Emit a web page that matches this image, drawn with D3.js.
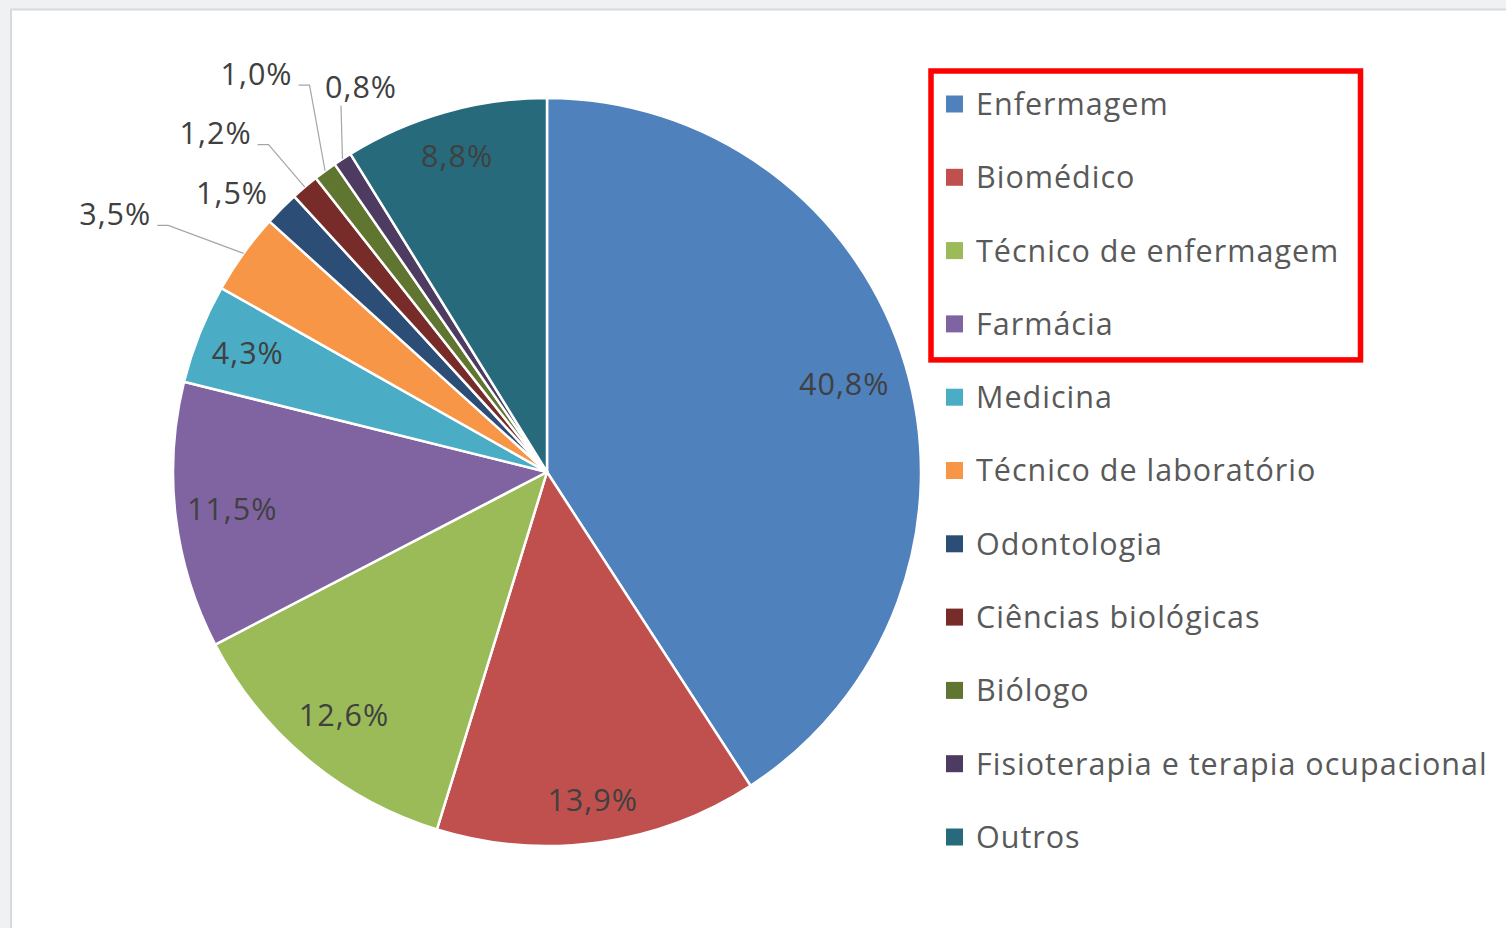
<!DOCTYPE html>
<html>
<head>
<meta charset="utf-8">
<script src="https://cdn.jsdelivr.net/npm/d3@7"></script>
<style>
  body { margin: 0; background: #f0f1f3; }
  text { font-family: "Open Sans", "Noto Sans", sans-serif; letter-spacing: 1px; }
</style>
</head>
<body>
<div id="vis"></div>
<script>
// Frame constants
const FRAME_WIDTH = 1506;
const FRAME_HEIGHT = 928;
const CENTER = {x: 547, y: 472};
const RADIUS = 374;
const FONT = "30.5px";

// Data
const categories = ["Enfermagem", "Biomédico", "Técnico de enfermagem", "Farmácia",
  "Medicina", "Técnico de laboratório", "Odontologia", "Ciências biológicas",
  "Biólogo", "Fisioterapia e terapia ocupacional", "Outros"];
const shares = [40.8, 13.9, 12.6, 11.5, 4.3, 3.5, 1.5, 1.2, 1.0, 0.8, 8.8];
const colors = ["#4f81bd", "#c0504d", "#9bbb59", "#8064a2", "#4bacc6", "#f79646",
  "#2c4d75", "#772c2a", "#5f7530", "#4d3b62", "#276a7c"];
const highlighted = ["Enfermagem", "Biomédico", "Técnico de enfermagem", "Farmácia"];

// radius of the labels that sit inside their slice
const INSIDE_LABEL_R = {
  "Enfermagem": 310, "Biomédico": 331, "Técnico de enfermagem": 317,
  "Farmácia": 317, "Medicina": 322, "Outros": 329
};
// placement of the outside labels: angle shift (deg) from slice middle, radius, leader line
const OUTSIDE_LABELS = {
  "Técnico de laboratório": {da: -4.9, r: 503, leader: true},
  "Odontologia": {da: -3.2, r: 421, leader: false},
  "Ciências biológicas": {da: -4.0, r: 474, leader: true},
  "Biólogo": {da: 0.3, r: 493, leader: true},
  "Fisioterapia e terapia ocupacional": {da: 7.4, r: 428, leader: true}
};

const fmt = v => v.toFixed(1).replace(".", ",") + "%";

const FRAME = d3.select("#vis")
  .append("svg")
    .attr("width", FRAME_WIDTH)
    .attr("height", FRAME_HEIGHT);

// chart area
FRAME.append("rect")
  .attr("x", 11).attr("y", 9.5)
  .attr("width", FRAME_WIDTH + 20).attr("height", FRAME_HEIGHT + 20)
  .attr("fill", "#ffffff")
  .attr("stroke", "#d9d9d9")
  .attr("stroke-width", 2);

const COLOR = d3.scaleOrdinal().domain(categories).range(colors);

const pieData = d3.pie().sort(null).value(d => d.v)(
  categories.map((c, i) => ({c: c, v: shares[i]})));

const arc = d3.arc().innerRadius(0).outerRadius(RADIUS);
const edgeArc = d3.arc().innerRadius(RADIUS).outerRadius(RADIUS);

const PIE = FRAME.append("g")
  .attr("transform", "translate(" + CENTER.x + "," + CENTER.y + ")");

PIE.selectAll("path.slice")
  .data(pieData)
  .enter()
  .append("path")
    .attr("class", "slice")
    .attr("d", arc)
    .attr("fill", d => COLOR(d.data.c))
    .attr("stroke", "#ffffff")
    .attr("stroke-width", 2.5)
    .attr("stroke-linejoin", "round");

// labels inside the slices
PIE.selectAll("text.inside")
  .data(pieData.filter(d => !OUTSIDE_LABELS[d.data.c]))
  .enter()
  .append("text")
    .attr("class", "inside")
    .attr("transform", d => {
      const r = INSIDE_LABEL_R[d.data.c];
      return "translate(" + d3.arc().innerRadius(r).outerRadius(r).centroid(d) + ")";
    })
    .attr("text-anchor", "middle")
    .attr("dy", "0.36em")
    .attr("font-size", FONT)
    .attr("fill", "#404040")
    .text(d => fmt(d.data.v));

// labels outside, with leader lines
const outside = pieData.filter(d => OUTSIDE_LABELS[d.data.c]);
outside.forEach(d => {
  const cfg = OUTSIDE_LABELS[d.data.c];
  const mid = (d.startAngle + d.endAngle) / 2 + cfg.da * Math.PI / 180;
  const lx = cfg.r * Math.sin(mid);
  const ly = -cfg.r * Math.cos(mid);
  const t = PIE.append("text")
    .attr("x", lx).attr("y", ly)
    .attr("text-anchor", "middle")
    .attr("dy", "0.36em")
    .attr("font-size", FONT)
    .attr("fill", "#404040")
    .text(fmt(d.data.v));
  if (!cfg.leader) return;
  const box = t.node().getBBox();
  const start = edgeArc.centroid(d);
  let pts;
  if (start[0] > box.x && start[0] < box.x + box.width) {
    pts = [[start[0] - 1.5, box.y + box.height - 1], start];
  } else {
    const yy = ly + 11.5;
    const x0 = box.x + box.width + 6;
    pts = [[x0, yy], [x0 + 11, yy], start];
  }
  PIE.append("path")
    .attr("d", d3.line()(pts))
    .attr("fill", "none")
    .attr("stroke", "#a6a6a6")
    .attr("stroke-width", 1.2);
});

// Legend
const LEGEND_Y = d3.scalePoint().domain(categories).range([104, 837]);
const LEGEND = FRAME.append("g");
LEGEND.selectAll("rect")
  .data(categories)
  .enter()
  .append("rect")
    .attr("x", 946)
    .attr("y", d => LEGEND_Y(d) - 8.5)
    .attr("width", 17).attr("height", 17)
    .attr("fill", d => COLOR(d));
LEGEND.selectAll("text")
  .data(categories)
  .enter()
  .append("text")
    .attr("x", 976)
    .attr("y", d => LEGEND_Y(d))
    .attr("dy", "0.36em")
    .attr("font-size", FONT)
    .attr("fill", "#595959")
    .text(d => d);

// red box round the highlighted courses
const hiY = highlighted.map(c => LEGEND_Y(c));
FRAME.append("rect")
  .attr("x", 931)
  .attr("y", d3.min(hiY) - 33)
  .attr("width", 429.5)
  .attr("height", d3.max(hiY) - d3.min(hiY) + 69)
  .attr("fill", "none")
  .attr("stroke", "#ff0000")
  .attr("stroke-width", 5.5);
</script>
</body>
</html>
